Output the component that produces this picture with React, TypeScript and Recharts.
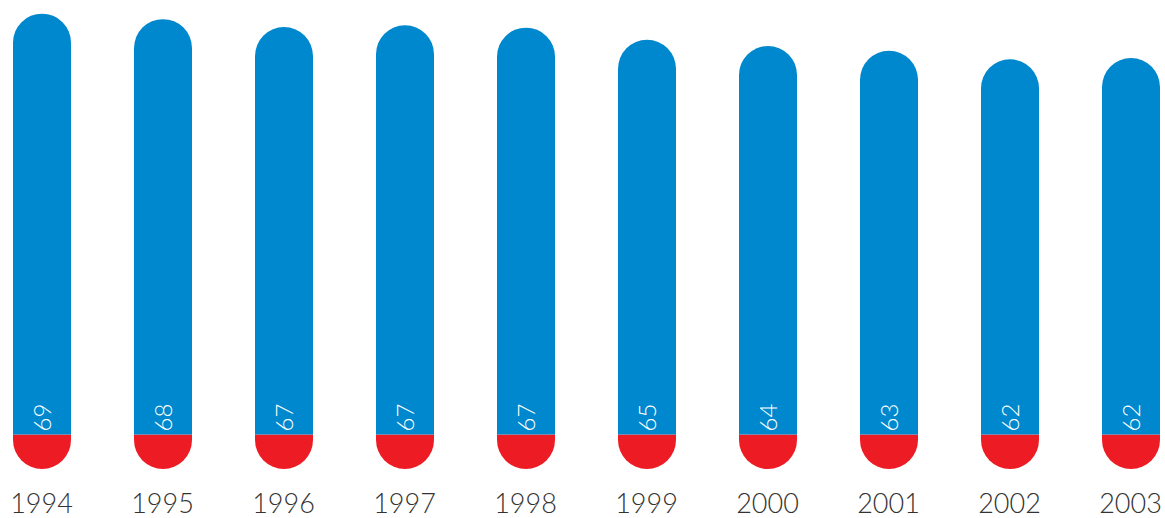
import { Bar, BarChart, LabelList, XAxis, YAxis } from "recharts";

const years = ["1994", "1995", "1996", "1997", "1998", "1999", "2000", "2001", "2002", "2003"];
const shareValues = [69.1, 68.2, 66.9, 67.2, 66.8, 64.8, 63.8, 63.0, 61.6, 61.8];
const baseValues = [5.66, 5.66, 5.66, 5.66, 5.66, 5.66, 5.66, 5.66, 5.66, 5.66];

const data = years.map((year, i) => ({
  year,
  share: shareValues[i],
  base: baseValues[i]
}));

const BLUE = "#0088ce";
const RED = "#ed1c24";
const FONT = "Lato, 'Open Sans', 'DejaVu Sans', sans-serif";

function YearTick(props: any) {
  const { x, y, payload } = props;
  return (
    <text x={x} y={y + 36} textAnchor="middle" fill="#333" fontSize={27} fontFamily={FONT} fontWeight={300}>
      {payload.value}
    </text>
  );
}

// red foot: square top, half-circle bottom
function RoundFoot(props: any) {
  const { x, y, width, height, fill } = props;
  const r = width / 2;
  const d = `M${x},${y} H${x + width} V${y + height - r} A${r},${r} 0 0 1 ${x},${y + height - r} Z`;
  return <path d={d} fill={fill} />;
}

function ValueLabel(props: any) {
  const { x, y, width, height, value } = props;
  const cx = x + width / 2 + 9;
  const bottom = y + height - 3;
  return (
    <text
      x={cx}
      y={bottom}
      transform={`rotate(-90 ${cx} ${bottom})`}
      textAnchor="start"
      fill="#fff"
      fontSize={24}
      fontFamily={FONT}
      fontWeight={300}
    >
      {Math.round(value)}
    </text>
  );
}

export default function App() {
  return (
    <div style={{ position: "absolute", left: 0, top: 0, width: 1165, height: 518, overflow: "hidden", background: "#fff" }}>
      <div style={{ marginLeft: -19.5 }}>
        <BarChart width={1210} height={518} data={data} margin={{ top: 0, right: 0, bottom: 0, left: 0 }}>
          <XAxis dataKey="year" axisLine={false} tickLine={false} height={49} tick={<YearTick />} interval={0} />
          <YAxis hide domain={[0, 77]} />
          <Bar dataKey="base" stackId="a" fill={RED} barSize={58} shape={<RoundFoot />} isAnimationActive={false} />
          <Bar dataKey="share" stackId="a" fill={BLUE} barSize={58} radius={[29, 29, 0, 0]} isAnimationActive={false}>
            <LabelList dataKey="share" content={<ValueLabel />} />
          </Bar>
        </BarChart>
      </div>
    </div>
  );
}
